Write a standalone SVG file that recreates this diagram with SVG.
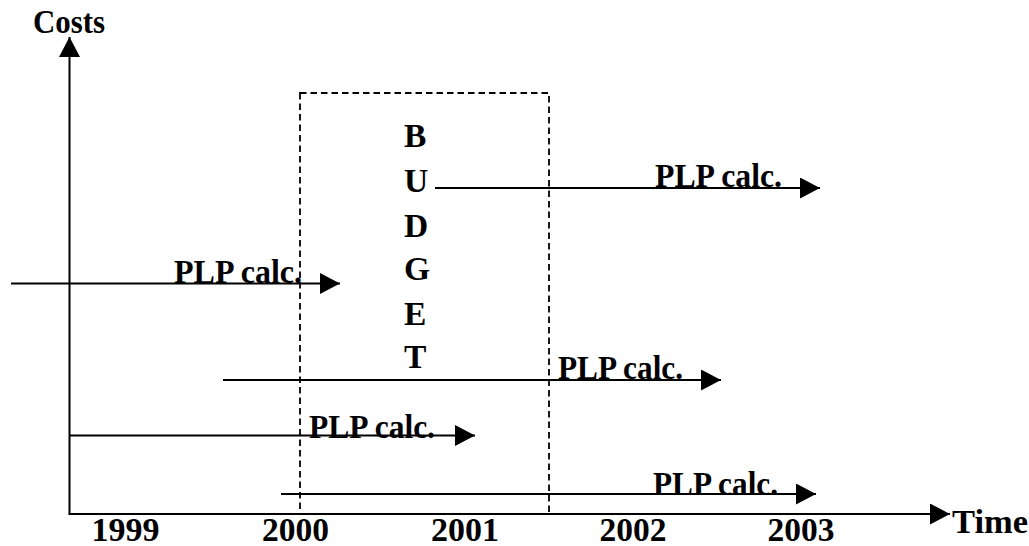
<svg xmlns="http://www.w3.org/2000/svg" width="1029" height="546" viewBox="0 0 1029 546">
<style>
text{font-family:"Liberation Serif","Times New Roman",serif;font-weight:bold;fill:#000;font-size:33.5px}
.ln{stroke:#000;stroke-width:2;fill:none}
.dash{stroke:#000;stroke-width:1.8;fill:none;stroke-dasharray:6.5,4}
</style>
<defs>
<marker id="ah" viewBox="0 0 20 21" refX="20" refY="10.5" markerWidth="20" markerHeight="21" markerUnits="userSpaceOnUse" orient="auto">
<path d="M0,0 L20,10.5 L0,21 Z" fill="#000"/>
</marker>
</defs>
<rect width="1029" height="546" fill="#fff"/>
<g id="axes">
<line class="ln" x1="69.5" y1="514" x2="69.5" y2="37" marker-end="url(#ah)"/>
<line class="ln" x1="68.5" y1="514" x2="950" y2="514" marker-end="url(#ah)"/>
<text x="33" y="33" textLength="72" lengthAdjust="spacingAndGlyphs">Costs</text>
<text x="952" y="533" textLength="76" lengthAdjust="spacingAndGlyphs">Time</text>
<text x="125.5" y="541" text-anchor="middle" textLength="68" lengthAdjust="spacingAndGlyphs">1999</text>
<text x="295.5" y="541" text-anchor="middle" textLength="67" lengthAdjust="spacingAndGlyphs">2000</text>
<text x="465" y="541" text-anchor="middle" textLength="68" lengthAdjust="spacingAndGlyphs">2001</text>
<text x="633" y="541" text-anchor="middle" textLength="67" lengthAdjust="spacingAndGlyphs">2002</text>
<text x="801" y="541" text-anchor="middle" textLength="67" lengthAdjust="spacingAndGlyphs">2003</text>
</g>
<g id="budget">
<rect class="dash" x="300" y="93" width="249" height="421"/>
<text x="404" y="147">B</text>
<text x="404" y="192">U</text>
<text x="404" y="236.5">D</text>
<text x="404" y="280">G</text>
<text x="404" y="325">E</text>
<text x="404" y="368">T</text>
</g>
<g id="connectors">
<line class="ln" x1="435" y1="188" x2="820" y2="188" marker-end="url(#ah)"/>
<line class="ln" x1="11" y1="283.5" x2="340" y2="283.5" marker-end="url(#ah)"/>
<line class="ln" x1="223" y1="380" x2="721" y2="380" marker-end="url(#ah)"/>
<line class="ln" x1="69.5" y1="435.5" x2="475" y2="435.5" marker-end="url(#ah)"/>
<line class="ln" x1="281" y1="494" x2="816" y2="494" marker-end="url(#ah)"/>
</g>
<g id="labels">
<text x="655" y="187" textLength="127" lengthAdjust="spacingAndGlyphs">PLP calc.</text>
<text x="174" y="283" textLength="128" lengthAdjust="spacingAndGlyphs">PLP calc.</text>
<text x="558" y="379" textLength="125" lengthAdjust="spacingAndGlyphs">PLP calc.</text>
<text x="309" y="438" textLength="126" lengthAdjust="spacingAndGlyphs">PLP calc.</text>
<text x="653" y="495" textLength="125" lengthAdjust="spacingAndGlyphs">PLP calc.</text>
</g>
</svg>
